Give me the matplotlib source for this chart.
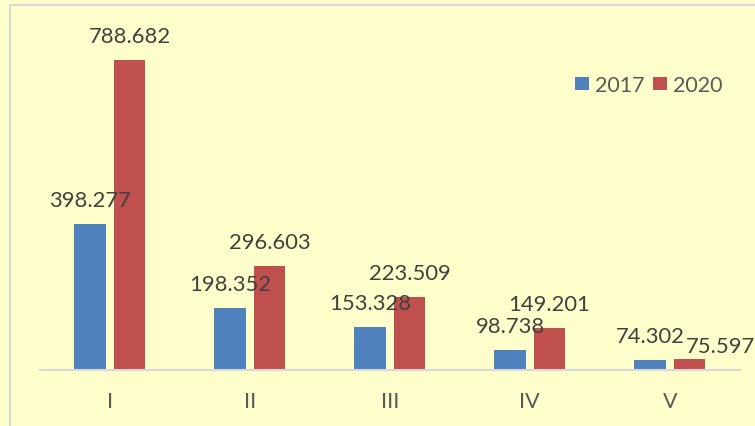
import numpy as np
import matplotlib.pyplot as plt
from matplotlib.lines import Line2D

categories = ['I', 'II', 'III', 'IV', 'V']
years = ['2017', '2020']
values_2017 = [398.277, 198.352, 153.328, 98.738, 74.302]
values_2020 = [788.682, 296.603, 223.509, 149.201, 75.597]

bg = '#FFFFCC'
blue = '#4F81BD'
red = '#C0504D'

plt.rcParams['font.family'] = ['Lato', 'DejaVu Sans']

fig = plt.figure(figsize=(7.55, 4.27), dpi=100, facecolor=bg)
ax = fig.add_axes([39.75 / 755, 56 / 427, 700 / 755, 357 / 427])
ax.set_facecolor(bg)

x = np.arange(len(categories))
w = 0.225
off = 0.141
b1 = ax.bar(x - off, values_2017, w, color=blue, label=years[0], zorder=2)
b2 = ax.bar(x + off, values_2020, w, color=red, label=years[1], zorder=2)

ax.set_xlim(-0.5, 4.5)
ax.set_ylim(50, 900)

for s in ['top', 'right', 'left']:
    ax.spines[s].set_visible(False)
ax.spines['bottom'].set_color('#D9D9D9')
ax.spines['bottom'].set_linewidth(1.5)
ax.set_yticks([])
ax.set_xticks(x)
ax.set_xticklabels(categories)
ax.tick_params(axis='x', length=0, pad=15, labelsize=15.5, labelcolor='#595959')

# data labels (last one was moved aside in the original)
shifts = {('2020', 4): (31, 7)}
for name, bars, vals in [('2017', b1, values_2017), ('2020', b2, values_2020)]:
    for i, (r, v) in enumerate(zip(bars, vals)):
        dx, dy = shifts.get((name, i), (0, 18))
        ax.annotate(f'{v:.3f}', (r.get_x() + r.get_width() / 2, v),
                    xytext=(dx, dy), textcoords='offset pixels',
                    ha='center', va='baseline', fontsize=15.8, color='#404040',
                    annotation_clip=False)

leg = fig.legend(loc='center left', bbox_to_anchor=(575 / 755, 1 - 86 / 427),
                 ncol=2, frameon=False, fontsize=15.5, labelcolor='#595959',
                 handlelength=0.65, handleheight=0.61, handletextpad=0.28,
                 columnspacing=0.37, borderpad=0, borderaxespad=0)

# chart area border
fig.add_artist(Line2D([10 / 755, 10 / 755], [0, 1 - 6 / 427], transform=fig.transFigure,
                      color='#D9D9D9', lw=1.5))
fig.add_artist(Line2D([10 / 755, 1], [1 - 6 / 427, 1 - 6 / 427], transform=fig.transFigure,
                      color='#D9D9D9', lw=1.5))

fig.savefig('out.png', dpi=100, facecolor=bg)
